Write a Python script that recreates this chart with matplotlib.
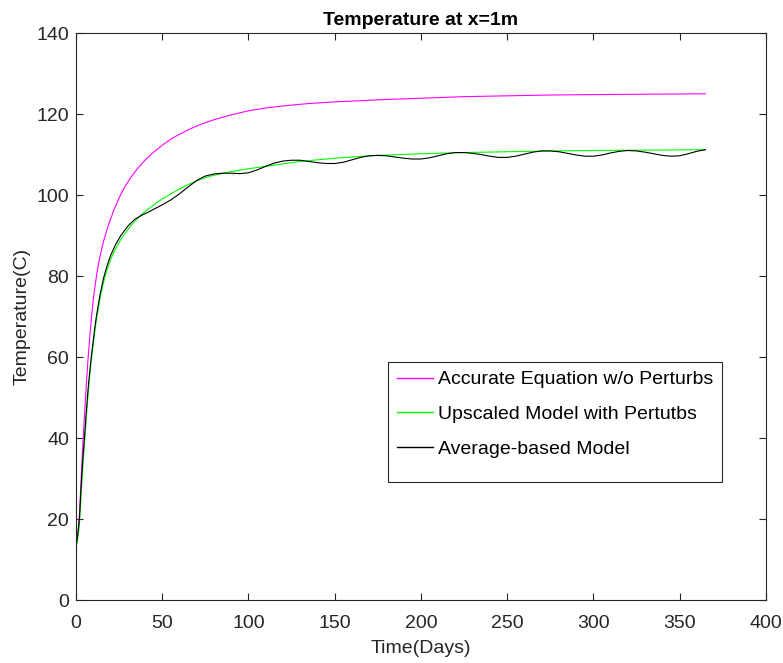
import matplotlib
matplotlib.use("Agg")
import matplotlib.pyplot as plt
from matplotlib.patches import Rectangle

plt.rcParams['font.family'] = ['Liberation Sans', 'DejaVu Sans']

# Accurate equation without perturbations
days_acc = [0, 1, 2, 3, 4, 5, 6, 7, 8, 9, 10, 11, 12, 13, 14, 16, 18, 20, 22, 25, 28,
            32, 36, 40, 45, 50, 55, 60, 66, 72, 80, 90, 100, 110, 120, 135, 150, 165,
            180, 200, 225, 250, 275, 300, 330, 365]
temp_acc = [13, 16, 21, 30, 38.5, 46, 53, 59.5, 65, 69.8, 74, 77.4, 80.3, 82.8, 85, 88.6,
            91.5, 94, 96.3, 99.3, 101.8, 104.5, 106.7, 108.6, 110.6, 112.3, 113.8, 115.0,
            116.3, 117.4, 118.6, 119.8, 120.8, 121.5, 122.0, 122.6, 123.0, 123.3, 123.6,
            123.9, 124.3, 124.5, 124.7, 124.8, 124.9, 125]

# Upscaled model with perturbations
days_up = [0, 1, 2, 3, 4, 5, 6, 7, 8, 9, 10, 11, 12, 14, 16, 18, 20, 23, 26, 30, 34, 38,
           42, 46, 50, 55, 60, 65, 70, 75, 80, 90, 100, 110, 120, 130, 140, 150, 160,
           175, 200, 225, 250, 275, 300, 330, 365]
temp_up = [13, 15, 18.5, 26, 33, 39, 45, 50.5, 55.5, 59.5, 63, 66.5, 69.5, 74.5, 78.5,
           81.5, 84, 86.8, 89, 91.5, 93.5, 95.2, 96.6, 97.9, 99, 100.3, 101.5, 102.6,
           103.5, 104.3, 104.9, 105.8, 106.5, 107.1, 107.7, 108.3, 108.7, 109.1, 109.4,
           109.8, 110.2, 110.5, 110.7, 110.9, 111, 111.1, 111.2]

# Average-based model
days_avg = [0, 1, 2, 3, 4, 5, 6, 7, 8, 9, 10, 11, 12, 14, 16, 18, 20, 23, 26, 30, 34, 38,
            42, 46, 50, 55, 60, 65, 70, 75, 80, 85, 90, 95, 100, 105, 110, 115, 120, 125,
            130, 135, 140, 145, 150, 155, 160, 165, 170, 175, 180, 185, 190, 195, 200,
            205, 210, 215, 220, 225, 230, 235, 240, 245, 250, 255, 260, 265, 270, 275,
            280, 285, 290, 295, 300, 305, 310, 315, 320, 325, 330, 335, 340, 345, 350,
            355, 360, 365]
temp_avg = [13, 16, 20, 28, 35, 40.5, 46.5, 52, 56.5, 60.5, 64, 67.5, 70.5, 75.5, 79.5,
            82.5, 85, 87.8, 90, 92.3, 94, 95, 95.8, 96.7, 97.6, 98.8, 100.3, 102, 103.6,
            104.7, 105.2, 105.4, 105.4, 105.3, 105.5, 106.2, 107.1, 107.9, 108.4, 108.6,
            108.6, 108.3, 108.0, 107.8, 107.8, 108.1, 108.7, 109.3, 109.7, 109.8, 109.7,
            109.4, 109.1, 108.9, 108.9, 109.2, 109.7, 110.2, 110.5, 110.5, 110.3, 110.0,
            109.6, 109.3, 109.3, 109.6, 110.1, 110.6, 110.9, 110.9, 110.7, 110.3, 109.9,
            109.6, 109.6, 109.9, 110.4, 110.8, 111.0, 110.9, 110.6, 110.2, 109.8, 109.6,
            109.7, 110.2, 110.8, 111.2]

labels = ['Accurate Equation w/o Perturbs', 'Upscaled Model with Pertutbs',
          'Average-based Model']

xticks = [0, 50, 100, 150, 200, 250, 300, 350, 400]
yticks = [0, 20, 40, 60, 80, 100, 120, 140]

dark = '#262626'
fs = 14

fig = plt.figure(figsize=(7.83, 6.63), dpi=100)
ax = fig.add_axes([0.097, 0.0946, 0.881, 0.8556])

ax.plot(days_acc, temp_acc, color='#ff00ff', lw=0.8, label=labels[0])
ax.plot(days_up, temp_up, color='#00ff00', lw=0.8, label=labels[1])
ax.plot(days_avg, temp_avg, color='black', lw=0.8, label=labels[2])

ax.set_xlim(0, 400)
ax.set_ylim(0, 140)
ax.set_xticks(xticks)
ax.set_yticks(yticks)
ax.tick_params(direction='in', top=True, right=True, length=5, width=0.8,
               colors=dark, labelsize=fs)
ax.tick_params(axis='x', pad=10.5)
ax.tick_params(axis='y', pad=5)
for s in ax.spines.values():
    s.set_color(dark)
    s.set_linewidth(0.8)

ax.set_xlabel('Time(Days)', fontsize=fs, color=dark, labelpad=6)
ax.set_ylabel('Temperature(C)', fontsize=fs, color=dark, labelpad=4)
ax.set_title('Temperature at x=1m', fontsize=fs, fontweight='bold', pad=6)

# Legend entries without their own frame; the box is drawn separately
leg = ax.legend(loc='upper left', bbox_to_anchor=(0.4565, 0.4147), fontsize=fs,
                frameon=False, handlelength=1.85, handletextpad=0.28,
                labelspacing=0.88, borderpad=0.3, borderaxespad=0)
leg.set_zorder(6)
for h in leg.get_lines():
    h.set_linewidth(1.0)
ax.add_patch(Rectangle((0.4518, 0.2085), 0.4851, 0.2115, transform=ax.transAxes,
                       facecolor='white', edgecolor=dark, linewidth=0.8, zorder=5))

fig.savefig('out.png', dpi=100)
